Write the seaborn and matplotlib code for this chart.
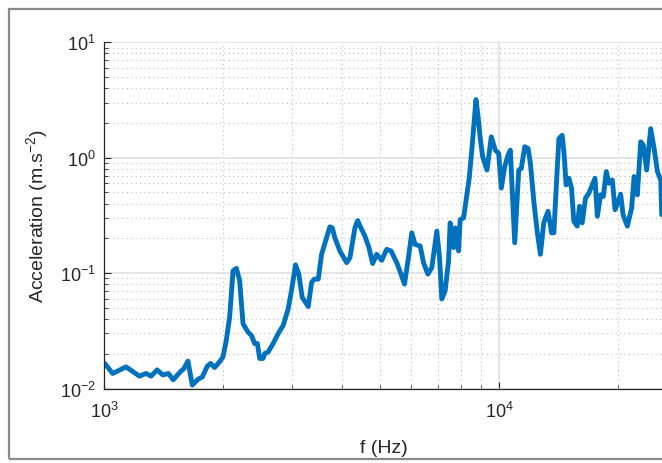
import numpy as np
import pandas as pd
import seaborn as sns
import matplotlib
matplotlib.use("Agg")
import matplotlib.pyplot as plt
from matplotlib.patches import Rectangle
from matplotlib.ticker import LogLocator, NullFormatter

# Acceleration spectrum: frequency (Hz) and acceleration amplitude (m.s^-2)
freq_hz = [
    1006, 1052, 1137, 1229, 1278, 1316, 1363, 1409, 1456, 1497,
    1562, 1594, 1631, 1673, 1729, 1774, 1826, 1861, 1905, 1961,
    2001, 2040, 2080, 2122, 2163, 2205, 2249, 2315, 2361, 2407,
    2445, 2479, 2528, 2552, 2603, 2680, 2760, 2842, 2926, 2983,
    3054, 3113, 3175, 3289, 3354, 3406, 3487, 3555, 3660, 3731,
    3784, 3841, 3955, 4114, 4194, 4318, 4387, 4471, 4577, 4686,
    4788, 4901, 5047, 5196, 5328, 5509, 5649, 5763, 5899, 6014,
    6131, 6316, 6441, 6604, 6760, 6960, 7071, 7166, 7306, 7452,
    7522, 7674, 7746, 7900, 7975, 8135, 8294, 8406, 8541, 8743,
    8846, 8965, 9092, 9323, 9561, 9787, 9983, 10134, 10339, 10540,
    10683, 10960, 11220, 11390, 11620, 11850, 12010, 12250, 12490, 12730,
    12980, 13310, 13590, 13770, 13900, 14180, 14450, 14600, 14790, 15030,
    15260, 15470, 15780, 15990, 16240, 16560, 16890, 17220, 17500, 17740,
    18080, 18370, 18690, 18980, 19360, 19670, 20050, 20320, 20610, 21130,
    21670, 21980, 22400, 22840, 23200, 23650, 24210, 24700, 25180, 25670,
    25820,
]
accel = [
    0.0164, 0.0135, 0.0154, 0.0128, 0.0135, 0.0128, 0.0145, 0.0131, 0.0135, 0.0119,
    0.0140, 0.0149, 0.0173, 0.0107, 0.0120, 0.0126, 0.0156, 0.0165, 0.0152, 0.0170,
    0.0188, 0.0262, 0.0415, 0.1047, 0.110, 0.0859, 0.0364, 0.0308, 0.0289, 0.0245,
    0.0245, 0.0182, 0.0182, 0.0201, 0.0207, 0.0245, 0.0299, 0.0352, 0.0490, 0.0705,
    0.118, 0.0979, 0.0617, 0.0513, 0.0830, 0.0887, 0.0887, 0.1455, 0.2023, 0.2518,
    0.2466, 0.2023, 0.1556, 0.1233, 0.1361, 0.2466, 0.285, 0.2466, 0.2094, 0.166,
    0.121, 0.1455, 0.129, 0.1606, 0.1556, 0.1233, 0.0979, 0.0803, 0.1361, 0.2234,
    0.177, 0.1718, 0.1233, 0.0979, 0.1117, 0.2312, 0.1361, 0.0597, 0.0705, 0.1276,
    0.2723, 0.166, 0.2466, 0.1556, 0.2904, 0.3006, 0.4766, 0.6637, 1.202, 3.19,
    2.32, 1.466, 1.02, 0.782, 1.516, 1.162, 1.089, 0.545, 0.837, 1.052,
    1.162, 0.1832, 0.782, 0.809, 1.245, 1.202, 0.893, 0.419, 0.2312, 0.1455,
    0.2723, 0.3436, 0.2234, 0.2234, 0.419, 1.466, 1.564, 1.127, 0.581, 0.664,
    0.545, 0.2818, 0.2553, 0.3793, 0.2723, 0.4467, 0.493, 0.581, 0.664, 0.311,
    0.4766, 0.462, 0.758, 0.601, 0.641, 0.354, 0.419, 0.483, 0.321, 0.2553,
    0.3664, 0.687, 0.4766, 1.374, 1.283, 0.782, 1.786, 1.202, 0.758, 0.641,
    0.321,
]

x_limits = (1e3, 10 ** (3 + 560 / 395))
y_limits = (1e-2, 1e1)

sns.set_style("white")
plt.rcParams["font.family"] = ["Liberation Sans", "DejaVu Sans"]
plt.rcParams["mathtext.fontset"] = "custom"
plt.rcParams["mathtext.rm"] = "Liberation Sans"
plt.rcParams["mathtext.it"] = "Liberation Sans:italic"
plt.rcParams["mathtext.bf"] = "Liberation Sans:bold"

W, H = 662, 464
fig = plt.figure(figsize=(W / 100, H / 100), dpi=100)
fig.patch.set_facecolor("white")

ax = fig.add_axes([104 / W, 1 - 389.5 / H, 560 / W, (389.5 - 43.3) / H])

df = pd.DataFrame({"f": freq_hz, "a": accel})
sns.lineplot(data=df, x="f", y="a", ax=ax, color="#0072BD", linewidth=3.5,
             estimator=None, sort=False, solid_joinstyle="round",
             solid_capstyle="round")

ax.set_xscale("log")
ax.set_yscale("log")
ax.set_xlim(*x_limits)
ax.set_ylim(*y_limits)

ax.xaxis.set_major_locator(LogLocator(base=10, numticks=10))
ax.yaxis.set_major_locator(LogLocator(base=10, numticks=10))
ax.xaxis.set_minor_locator(LogLocator(base=10, subs=np.arange(2, 10), numticks=20))
ax.yaxis.set_minor_locator(LogLocator(base=10, subs=np.arange(2, 10), numticks=20))
ax.xaxis.set_minor_formatter(NullFormatter())
ax.yaxis.set_minor_formatter(NullFormatter())

ax.set_axisbelow(True)
ax.grid(which="major", color="#dedede", linewidth=1.1, linestyle="-")
ax.grid(which="minor", color="#bdbdbd", linewidth=0.8, linestyle=(0, (1, 3)))

for side in ("top", "right"):
    ax.spines[side].set_visible(False)
for side in ("left", "bottom"):
    ax.spines[side].set_color("#262626")
    ax.spines[side].set_linewidth(0.9)

ax.tick_params(which="both", direction="in", colors="#262626",
               left=True, bottom=True, top=False, right=False)
ax.tick_params(which="major", length=5, width=0.8, labelsize=13)
ax.tick_params(which="minor", length=3, width=0.6)
ax.tick_params(axis="x", which="major", pad=9)
ax.tick_params(axis="y", which="major", pad=6)

ax.set_xlabel("f (Hz)", fontsize=14, color="#262626", labelpad=13)
ax.set_ylabel("Acceleration (m.s$^{-2}$)", fontsize=14, color="#262626", labelpad=7)

# light frame around the figure
fig.patches.append(Rectangle((9 / W, 1 - 460 / H), 1.2, (460 - 10) / H,
                             transform=fig.transFigure, fill=False,
                             edgecolor="#8a8a8a", linewidth=1.6))

fig.savefig("out.png", dpi=100)
